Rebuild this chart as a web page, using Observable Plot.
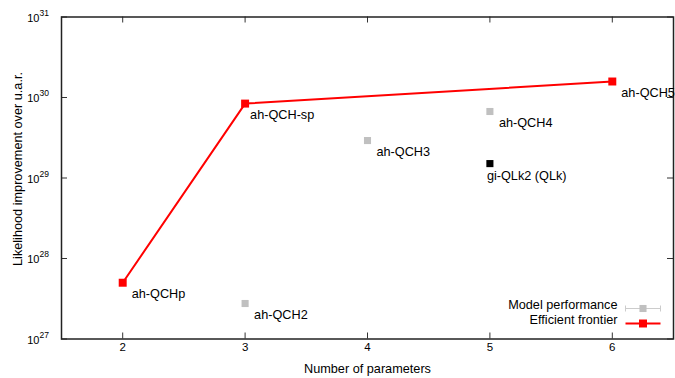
<!DOCTYPE html>
<html><head><meta charset="utf-8">
<script src="https://cdn.jsdelivr.net/npm/d3@7"></script>
<script src="https://cdn.jsdelivr.net/npm/@observablehq/plot@0.6"></script>
<style>html,body{margin:0;padding:0;background:#fff} svg{display:block}</style>
</head><body><div id="chart"></div>
<script>
// ---- data ----
const models     = ["ah-QCHp", "ah-QCH-sp", "ah-QCH2", "ah-QCH3", "ah-QCH4", "ah-QCH5", "gi-QLk2 (QLk)"];
const params     = [2, 3, 3, 4, 5, 6, 5];
const likelihood = [5.0e27, 8.4e29, 2.76e27, 2.92e29, 6.7e29, 1.58e30, 1.51e29];
const groups     = ["frontier", "frontier", "model", "model", "model", "frontier", "qlk"];

const xTicks = [2, 3, 4, 5, 6];
const yTicks = [1e27, 1e28, 1e29, 1e30, 1e31];
const yTickBase = "10";
const yTickExp = ["27", "28", "29", "30", "31"];

const xLabel = "Number of parameters";
const yLabel = "Likelihood improvement over u.a.r.";
const legendLabels = ["Model performance", "Efficient frontier"];

// ---- build rows ----
const rows = models.map((m, i) => ({model: m, params: params[i], lik: likelihood[i], group: groups[i]}));
const frontierRows = rows.filter(d => d.group === "frontier").sort((a, b) => a.params - b.params);
const fillOf = {frontier: "#ff0000", model: "#c0c0c0", qlk: "#000000"};

const font = "'Liberation Sans', Arial, Helvetica, sans-serif";
const fs = 12.7;

// custom legend symbols (horizontal sample lines)
const hSegment = caps => ({
  draw(ctx, size) {
    const r = Math.sqrt(size / Math.PI);
    ctx.moveTo(-r, 0); ctx.lineTo(r, 0);
    if (caps) {
      ctx.moveTo(-r, -3); ctx.lineTo(-r, 3);
      ctx.moveTo(r, -3); ctx.lineTo(r, 3);
    }
  }
});

const chart = Plot.plot({
  width: 675,
  height: 378,
  marginLeft: 61,
  marginRight: 2,
  marginTop: 16.5,
  marginBottom: 39.5,
  style: {fontFamily: font, fontSize: "12px", background: "#fff", color: "#000"},
  x: {type: "linear", domain: [1.5, 6.5], axis: null},
  y: {type: "log", domain: [1e27, 1e31], axis: null},
  marks: [
    // inward mirrored ticks
    Plot.tickX(xTicks, {x: d => d, insetTop: 316, stroke: "#333", strokeWidth: 1}),
    Plot.tickX(xTicks, {x: d => d, insetBottom: 316, stroke: "#333", strokeWidth: 1}),
    Plot.tickY(yTicks, {y: d => d, insetRight: 606, stroke: "#333", strokeWidth: 1}),
    Plot.tickY(yTicks, {y: d => d, insetLeft: 606, stroke: "#333", strokeWidth: 1}),
    Plot.frame({stroke: "#222", strokeWidth: 1.5}),
    // tick labels
    Plot.text(xTicks, {x: d => d, frameAnchor: "bottom", dy: 12, text: d => String(d), fontSize: 11.5, fill: "#000"}),
    Plot.text(yTicks, {y: d => d, frameAnchor: "left", dx: -22, dy: 1, textAnchor: "end", text: () => yTickBase, fontSize: 11, fill: "#000"}),
    Plot.text(yTicks, {y: d => d, frameAnchor: "left", dx: -22, dy: -4, textAnchor: "start", text: (d, i) => yTickExp[i], fontSize: 8.5, fill: "#000"}),
    // axis titles
    Plot.text([xLabel], {frameAnchor: "bottom", dy: 33.5, text: d => d, fontSize: fs, fill: "#000"}),
    Plot.text([yLabel], {frameAnchor: "left", dx: -44, dy: -9, rotate: -90, textAnchor: "middle", text: d => d, fontSize: fs, fill: "#000"}),
    // frontier line and points
    Plot.line(frontierRows, {x: "params", y: "lik", stroke: "#ff0000", strokeWidth: 2}),
    Plot.dot(rows.filter(d => d.group !== "frontier"), {x: "params", y: "lik", symbol: "square", r: 4, fill: d => fillOf[d.group]}),
    Plot.dot(frontierRows, {x: "params", y: "lik", symbol: "square", r: 4.5, fill: "#ff0000"}),
    // point labels
    Plot.text(rows.filter(d => d.group !== "qlk" && d.model !== "ah-QCH-sp"), {x: "params", y: "lik", text: "model", dx: 9, dy: 11, textAnchor: "start", fontSize: fs, fill: "#000"}),
    Plot.text(rows.filter(d => d.model === "ah-QCH-sp"), {x: "params", y: "lik", text: "model", dx: 5, dy: 11, textAnchor: "start", fontSize: fs, fill: "#000"}),
    Plot.text(rows.filter(d => d.group === "qlk"), {x: "params", y: "lik", text: "model", dx: -3, dy: 12, textAnchor: "start", fontSize: fs, fill: "#000"}),
    // legend
    Plot.text([legendLabels[0]], {frameAnchor: "bottom-right", dx: -56, dy: -30.5, textAnchor: "end", text: d => d, fontSize: fs, fill: "#000"}),
    Plot.text([legendLabels[1]], {frameAnchor: "bottom-right", dx: -56, dy: -15.5, textAnchor: "end", text: d => d, fontSize: fs, fill: "#000"}),
    Plot.dot([0], {frameAnchor: "bottom-right", dx: -30.5, dy: -30.5, symbol: hSegment(true), r: 17.5, stroke: "#cccccc", strokeWidth: 1, fill: "none"}),
    Plot.dot([0], {frameAnchor: "bottom-right", dx: -30.5, dy: -30.5, symbol: "square", r: 4, fill: "#c0c0c0"}),
    Plot.dot([0], {frameAnchor: "bottom-right", dx: -30.5, dy: -15.5, symbol: hSegment(false), r: 17.5, stroke: "#ff0000", strokeWidth: 2, fill: "none"}),
    Plot.dot([0], {frameAnchor: "bottom-right", dx: -30.5, dy: -15.5, symbol: "square", r: 4.5, fill: "#ff0000"})
  ]
});
document.getElementById("chart").appendChild(chart);
</script>
</body></html>
